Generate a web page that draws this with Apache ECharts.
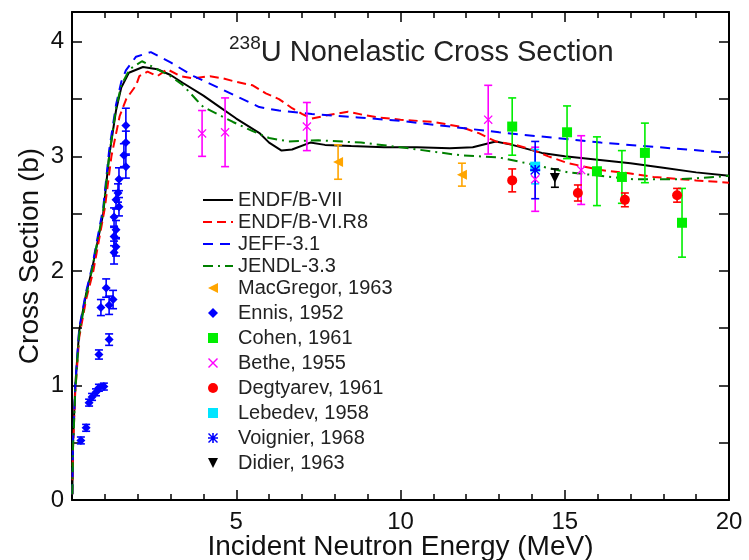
<!DOCTYPE html>
<html>
<head>
<meta charset="utf-8">
<script src="https://cdn.jsdelivr.net/npm/echarts@6/dist/echarts.min.js"></script>
<style>
    html, body { margin: 0; padding: 0; background: #fff; }
    #chart { width: 749px; height: 560px; }
</style>
</head>
<body>
<div id="chart"></div>
<script>
// evaluated curves, [energy MeV, cross section b]
var endf7 = [[0.01,0.05],[0.03,0.5],[0.1,1.0],[0.22,1.48],[0.43,1.8],[0.6,2.0],[0.95,2.5],[1.13,3.0],[1.34,3.4],[1.5,3.6],
    [1.73,3.73],[2.16,3.78],[2.6,3.76],[3.0,3.71],[3.38,3.64],[4.0,3.53],[4.5,3.43],[5.0,3.33],[5.72,3.2],[6.0,3.12],
    [6.38,3.05],[6.7,3.06],[7.25,3.12],[7.7,3.1],[8.5,3.09],[9.5,3.08],[10.5,3.08],[11.5,3.07],[12.2,3.08],[12.9,3.13],
    [13.4,3.1],[14.3,3.03],[15,3.0],[16,2.97],[17,2.94],[18,2.9],[19,2.86],[20,2.83]];
var endf6 = [[0.01,0.05],[0.03,0.45],[0.1,0.95],[0.22,1.42],[0.43,1.75],[0.65,2.0],[1.0,2.55],[1.2,3.0],[1.45,3.35],[1.65,3.5],
    [1.95,3.62],[2.05,3.7],[2.3,3.74],[2.6,3.7],[2.9,3.76],[3.3,3.7],[3.7,3.68],[4.2,3.7],[4.6,3.68],[5.0,3.65],
    [5.5,3.62],[5.9,3.55],[6.3,3.5],[6.7,3.42],[7.0,3.37],[7.3,3.33],[7.8,3.36],[8.4,3.39],[8.9,3.36],[9.3,3.34],
    [10,3.32],[11,3.3],[11.8,3.26],[12.4,3.2],[12.9,3.13],[13.5,3.1],[14,3.06],[14.5,3.0],[15.1,2.94],[16.1,2.88],
    [17,2.85],[17.7,2.82],[19,2.79],[20,2.77]];
var jeff31 = [[0.01,0.05],[0.03,0.5],[0.1,1.0],[0.22,1.5],[0.43,1.82],[0.6,2.02],[0.95,2.55],[1.13,3.05],[1.34,3.45],[1.5,3.65],
    [1.64,3.75],[1.95,3.87],[2.4,3.91],[3.0,3.82],[3.7,3.7],[4.6,3.58],[5.7,3.43],[6.3,3.4],[7.3,3.37],[8.7,3.34],
    [10,3.31],[13,3.21],[16.1,3.12],[20,3.03]];
var jendl33 = [[0.01,0.05],[0.03,0.45],[0.1,0.95],[0.22,1.45],[0.43,1.78],[0.6,2.0],[0.95,2.52],[1.13,3.0],[1.34,3.42],[1.5,3.62],
    [1.75,3.76],[2.13,3.83],[2.6,3.76],[3.0,3.7],[3.38,3.62],[3.8,3.49],[4.0,3.43],[4.9,3.3],[5.5,3.22],[6.0,3.16],
    [6.6,3.13],[7.5,3.14],[8.8,3.12],[10,3.08],[11.8,3.01],[13,2.99],[14,2.93],[15.1,2.86],[17.1,2.8],[18.5,2.8],
    [19.6,2.82],[20,2.83]];

// measurements, [energy MeV, cross section b, error b]
var macgregor = [[8.1,2.95,0.15],[11.87,2.84,0.1]];
var ennis = [[0.27,0.52,0.03],[0.43,0.63,0.03],[0.52,0.85,0.03],[0.61,0.9,0.03],[0.73,0.94,0.03],[0.82,0.98,0.03],
    [0.97,0.99,0.03],[0.82,1.27,0.04],[1.13,1.4,0.05],[0.88,1.68,0.07],[1.04,1.85,0.08],[1.25,1.75,0.08],
    [1.13,1.7,0.08],[1.28,2.16,0.1],[1.34,2.21,0.08],[1.28,2.3,0.08],[1.34,2.36,0.08],[1.28,2.47,0.08],
    [1.43,2.56,0.08],[1.34,2.62,0.08],[1.4,2.68,0.08],[1.43,2.8,0.1],[1.64,2.91,0.1],[1.58,3.01,0.1],
    [1.64,3.12,0.1],[1.64,3.27,0.15]];
var cohen = [[13.4,3.26,0.25],[15.07,3.21,0.23],[15.98,2.87,0.3],[16.74,2.82,0.23],[17.44,3.03,0.26],[18.57,2.42,0.3]];
var bethe = [[3.96,3.2,0.2],[4.66,3.21,0.3],[7.15,3.26,0.21],[12.67,3.32,0.3],[14.1,2.8,0.28],[15.5,2.88,0.3]];
var degtyarev = [[13.4,2.79,0.1],[15.4,2.68,0.07],[16.83,2.62,0.06],[18.42,2.66,0.06]];
var lebedev = [[14.1,2.91,0.15]];
var voignier = [[14.1,2.88,0.25]];
var didier = [[14.7,2.81,0.08]];

var lineNames = ['ENDF/B-VII', 'ENDF/B-VI.R8', 'JEFF-3.1', 'JENDL-3.3'];
var pointNames = ['MacGregor, 1963', 'Ennis, 1952', 'Cohen, 1961', 'Bethe, 1955',
    'Degtyarev, 1961', 'Lebedev, 1958', 'Voignier, 1968', 'Didier, 1963'];

var font = '"Liberation Sans", Arial, sans-serif';

function curve(name, data, color, dash) {
    return {
        name: name,
        type: 'line',
        data: data,
        symbol: 'none',
        lineStyle: { color: color, width: 2, type: dash },
        itemStyle: { color: color },
        z: 3
    };
}

function points(name, data, color, symbol, size) {
    return {
        name: name,
        type: 'scatter',
        data: data,
        symbol: symbol,
        symbolSize: size,
        itemStyle: { color: color, opacity: 1 },
        encode: { x: 0, y: 1 },
        z: 4
    };
}

function errbars(name, data, color) {
    return {
        name: name + ' err',
        type: 'custom',
        data: data,
        encode: { x: 0, y: 1 },
        z: 4,
        renderItem: function (params, api) {
            var x = api.value(0), y = api.value(1), e = api.value(2);
            var hi = api.coord([x, y + e]);
            var lo = api.coord([x, y - e]);
            var w = 4;
            var style = { stroke: color, lineWidth: 1.6 };
            return {
                type: 'group',
                children: [
                    { type: 'line', shape: { x1: hi[0], y1: hi[1], x2: lo[0], y2: lo[1] }, style: style },
                    { type: 'line', shape: { x1: hi[0] - w, y1: hi[1], x2: hi[0] + w, y2: hi[1] }, style: style },
                    { type: 'line', shape: { x1: lo[0] - w, y1: lo[1], x2: lo[0] + w, y2: lo[1] }, style: style }
                ]
            };
        }
    };
}

var square = 'path://M0,0H10V10H0Z';
var diamond = 'path://M5,0L10,5L5,10L0,5Z';
var leftTri = 'path://M0,5L10,0L10,10Z';
var downTri = 'path://M0,0L10,0L5,10Z';
var cross = 'path://M0,1L1,0L5,4L9,0L10,1L6,5L10,9L9,10L5,6L1,10L0,9L4,5Z';
var star = 'path://M4.2,0H5.8V10H4.2Z M0,4.2H10V5.8H0Z M0,1L1,0L5,4L9,0L10,1L6,5L10,9L9,10L5,6L1,10L0,9L4,5Z';

var series = [
    curve('ENDF/B-VII', endf7, '#000000', 'solid'),
    curve('ENDF/B-VI.R8', endf6, '#ff0000', [9, 5]),
    curve('JEFF-3.1', jeff31, '#0000ff', [10, 7]),
    curve('JENDL-3.3', jendl33, '#008000', [10, 5, 2, 5]),
    errbars('MacGregor, 1963', macgregor, '#ffa500'),
    points('MacGregor, 1963', macgregor, '#ffa500', leftTri, 10),
    errbars('Ennis, 1952', ennis, '#0000ff'),
    points('Ennis, 1952', ennis, '#0000ff', diamond, 9),
    errbars('Cohen, 1961', cohen, '#00ee00'),
    points('Cohen, 1961', cohen, '#00ee00', square, 10),
    errbars('Bethe, 1955', bethe, '#ff00ff'),
    points('Bethe, 1955', bethe, '#ff00ff', cross, 9),
    errbars('Degtyarev, 1961', degtyarev, '#ff0000'),
    points('Degtyarev, 1961', degtyarev, '#ff0000', 'circle', 10),
    errbars('Lebedev, 1958', lebedev, '#00e5ff'),
    points('Lebedev, 1958', lebedev, '#00e5ff', square, 10),
    errbars('Voignier, 1968', voignier, '#0000ff'),
    points('Voignier, 1968', voignier, '#0000ff', star, 10),
    errbars('Didier, 1963', didier, '#000000'),
    points('Didier, 1963', didier, '#000000', downTri, 10)
];

var axisLine = { show: true, onZero: false, lineStyle: { color: '#000', width: 2 } };
var tick = { show: true, inside: true, length: 10, lineStyle: { color: '#000', width: 1.5 } };
var minorStyle = { color: '#000', width: 1.5 };

var option = {
    animation: false,
    backgroundColor: '#fff',
    textStyle: { fontFamily: font },
    title: {
        text: '{sup|238}{main|U Nonelastic Cross Section}',
        left: 224,
        top: 29,
        textStyle: {
            fontWeight: 'normal',
            rich: {
                sup: { fontSize: 19, fontFamily: font, fontWeight: 'normal', color: '#222', padding: [0, 0, 18, 0] },
                main: { fontSize: 29, fontFamily: font, fontWeight: 'normal', color: '#222' }
            }
        }
    },
    legend: [{
        data: lineNames,
        orient: 'vertical',
        left: 197,
        top: 185,
        itemWidth: 30,
        itemHeight: 12,
        itemGap: 2,
        selectedMode: false,
        itemStyle: { opacity: 0 },
        textStyle: { fontSize: 20, fontFamily: font, color: '#222', lineHeight: 20 }
    }, {
        data: pointNames,
        orient: 'vertical',
        left: 203,
        top: 273,
        itemWidth: 30,
        itemHeight: 10,
        itemGap: 5,
        selectedMode: false,
        textStyle: { fontSize: 20, fontFamily: font, color: '#222', lineHeight: 20, padding: [0, 0, 0, 5] }
    }],
    grid: { left: 72, right: 20, top: 12, bottom: 60, containLabel: false, outerBoundsMode: 'none' },
    xAxis: [{
        type: 'value',
        min: 0,
        max: 20,
        interval: 5,
        position: 'bottom',
        name: 'Incident Neutron Energy (MeV)',
        nameLocation: 'middle',
        nameGap: 33,
        nameMoveOverlap: false,
        nameTextStyle: { fontSize: 28, fontFamily: font, color: '#111' },
        axisLine: axisLine,
        axisTick: tick,
        minorTick: { show: true, splitNumber: 5, length: 6, lineStyle: minorStyle },
        splitLine: { show: false },
        axisLabel: { fontSize: 24, color: '#111', margin: 10, showMinLabel: false }
    }, {
        type: 'value',
        min: 0,
        max: 20,
        interval: 5,
        position: 'top',
        axisLine: axisLine,
        axisTick: tick,
        minorTick: { show: true, splitNumber: 5, length: 6, lineStyle: minorStyle },
        splitLine: { show: false },
        axisLabel: { show: false }
    }],
    yAxis: [{
        type: 'value',
        min: 0,
        max: 4.26,
        interval: 1,
        position: 'left',
        name: 'Cross Section (b)',
        nameLocation: 'middle',
        nameGap: 28,
        nameMoveOverlap: false,
        nameTextStyle: { fontSize: 28, fontFamily: font, color: '#111' },
        axisLine: axisLine,
        axisTick: tick,
        minorTick: { show: true, splitNumber: 2, length: 10, lineStyle: minorStyle },
        splitLine: { show: false },
        axisLabel: { fontSize: 24, color: '#111', margin: 8, showMaxLabel: false }
    }, {
        type: 'value',
        min: 0,
        max: 4.26,
        interval: 1,
        position: 'right',
        axisLine: axisLine,
        axisTick: tick,
        minorTick: { show: true, splitNumber: 2, length: 10, lineStyle: minorStyle },
        splitLine: { show: false },
        axisLabel: { show: false }
    }],
    series: series
};

var chart = echarts.init(document.getElementById('chart'));
chart.setOption(option);
</script>
</body>
</html>
